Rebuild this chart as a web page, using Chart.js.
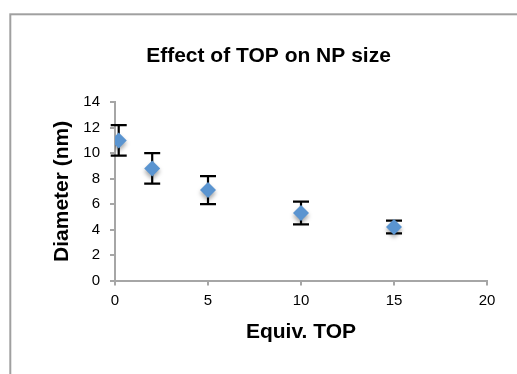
<!DOCTYPE html>
<html>
<head>
<meta charset="utf-8">
<script src="https://cdn.jsdelivr.net/npm/chart.js@4"></script>
<style>
  html, body { margin: 0; padding: 0; background: #fff; }
  #wrap { width: 517px; height: 374px; }
</style>
</head>
<body>
<div id="wrap"><canvas id="chartjs_scatter" width="517" height="374"></canvas></div>
<script>
// data
const equivTop = [0.2, 2, 5, 10, 15];
const diameter = [11.0, 8.8, 7.1, 5.3, 4.2];
const diameterErr = [1.2, 1.2, 1.1, 0.9, 0.5];
const xTicks = [0, 5, 10, 15, 20];
const yTicks = [0, 2, 4, 6, 8, 10, 12, 14];

const axisGrey = "#a6a6a6";
const font = "'Liberation Sans', Arial, sans-serif";

// outer chart frame (Excel style box)
const framePlugin = {
  id: "frame",
  beforeDraw(chart) {
    const ctx = chart.ctx;
    ctx.save();
    ctx.strokeStyle = "#a0a0a0";
    ctx.lineWidth = 2;
    ctx.strokeRect(10.3, 14.3, 600, 500);
    ctx.restore();
  },
};

// vertical error bars with caps, drawn under the markers
const errorBarPlugin = {
  id: "errorBars",
  beforeDatasetsDraw(chart) {
    const ctx = chart.ctx;
    const x = chart.scales.x;
    const y = chart.scales.y;
    ctx.save();
    ctx.strokeStyle = "#000";
    ctx.lineWidth = 2.2;
    equivTop.forEach(function (v, i) {
      const px = x.getPixelForValue(v);
      const top = y.getPixelForValue(diameter[i] + diameterErr[i]);
      const bot = y.getPixelForValue(diameter[i] - diameterErr[i]);
      ctx.beginPath();
      ctx.moveTo(px, top);
      ctx.lineTo(px, bot);
      ctx.moveTo(px - 8, top);
      ctx.lineTo(px + 8, top);
      ctx.moveTo(px - 8, bot);
      ctx.lineTo(px + 8, bot);
      ctx.stroke();
    });
    ctx.restore();
  },
  beforeDatasetDraw(chart) {
    const ctx = chart.ctx;
    ctx.save();
    ctx.shadowColor = "rgba(0,0,0,0.35)";
    ctx.shadowBlur = 4;
    ctx.shadowOffsetY = 3;
  },
  afterDatasetDraw(chart) {
    chart.ctx.restore();
  },
};

new Chart(document.getElementById("chartjs_scatter"), {
  type: "scatter",
  data: {
    datasets: [
      {
        label: "Diameter",
        data: equivTop.map(function (v, i) {
          return { x: v, y: diameter[i] };
        }),
        pointStyle: "rectRot",
        pointRadius: 8,
        pointHoverRadius: 8,
        backgroundColor: "#5a94d0",
        borderColor: "#5a94d0",
        borderWidth: 0,
      },
    ],
  },
  options: {
    responsive: false,
    animation: false,
    layout: {
      padding: { left: 50, right: 30, top: 0, bottom: 0 },
    },
    plugins: {
      legend: { display: false },
      tooltip: { enabled: false },
      title: {
        display: true,
        text: "Effect of TOP on NP size",
        color: "#000",
        font: { family: font, size: 21, weight: "bold" },
        padding: { top: 44, bottom: 33 },
      },
    },
    scales: {
      x: {
        type: "linear",
        min: xTicks[0],
        max: xTicks[xTicks.length - 1],
        afterBuildTicks(scale) {
          scale.ticks = xTicks.map(function (v) { return { value: v }; });
        },
        afterFit(scale) {
          scale.height = 93.5;
        },
        grid: {
          display: true,
          drawOnChartArea: false,
          drawTicks: true,
          tickLength: 5,
          color: axisGrey,
          lineWidth: 2,
        },
        border: { display: true, color: axisGrey, width: 2 },
        ticks: {
          color: "#000",
          padding: 6,
          maxRotation: 0,
          font: { family: font, size: 15 },
        },
        title: {
          display: true,
          text: "Equiv. TOP",
          color: "#000",
          font: { family: font, size: 21, weight: "bold" },
          padding: { top: 0, bottom: 29 },
        },
      },
      y: {
        type: "linear",
        min: yTicks[0],
        max: yTicks[yTicks.length - 1],
        afterBuildTicks(scale) {
          scale.ticks = yTicks.map(function (v) { return { value: v }; });
        },
        afterFit(scale) {
          scale.width = 65;
        },
        grid: {
          display: true,
          drawOnChartArea: false,
          drawTicks: true,
          tickLength: 5,
          color: axisGrey,
          lineWidth: 2,
        },
        border: { display: true, color: axisGrey, width: 2 },
        ticks: {
          color: "#000",
          padding: 10,
          font: { family: font, size: 15 },
        },
        title: {
          display: true,
          text: "Diameter (nm)",
          color: "#000",
          font: { family: font, size: 21, weight: "bold" },
          padding: { top: 0, bottom: 0 },
        },
      },
    },
  },
  plugins: [framePlugin, errorBarPlugin],
});
</script>
</body>
</html>
